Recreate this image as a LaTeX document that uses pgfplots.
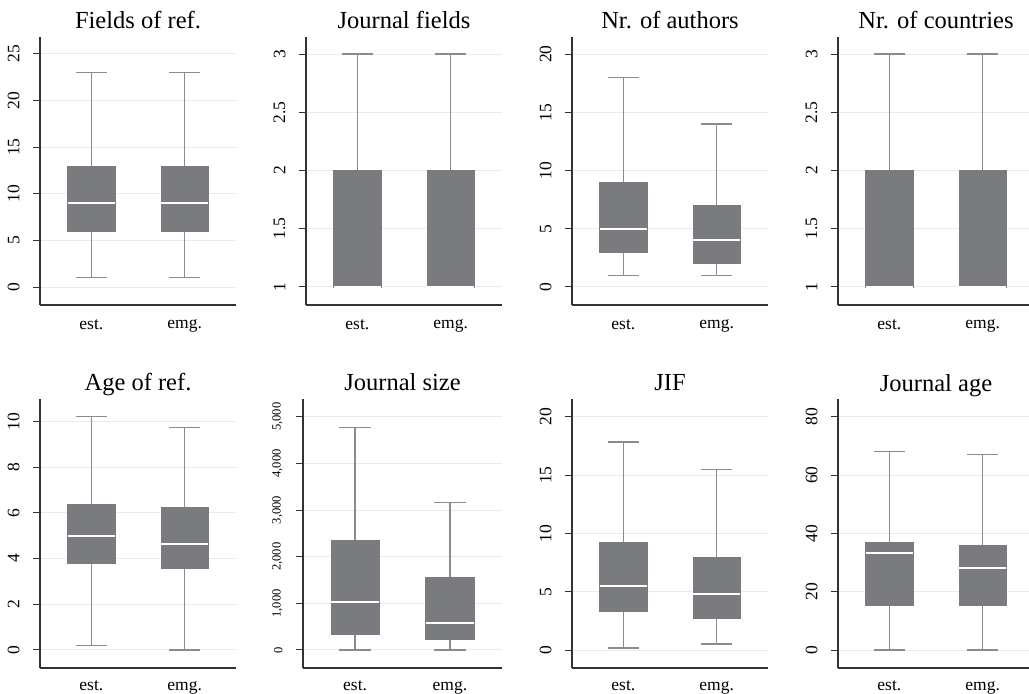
\documentclass[border=0pt]{standalone}
\usepackage{fontspec}
\setmainfont{Liberation Serif}
\usepackage{pgfplots}
\pgfplotsset{compat=1.18}
\usepgfplotslibrary{statistics}
\definecolor{boxc}{HTML}{7A7B7F}
\definecolor{whc}{HTML}{8C8C8C}
\definecolor{gridc}{HTML}{EAEAEA}
\definecolor{axisc}{HTML}{333333}
\newcommand\titlesize{\fontsize{24.5}{28}\selectfont}
\newcommand\ticksize{\fontsize{17.5}{20}\selectfont}
\newcommand\smallticksize{\fontsize{12.5}{14}\selectfont}
\pgfplotsset{
  panel/.style={
    scale only axis, width=196pt, height=268pt,
    xmin=0.45, xmax=2.55,
    axis x line*=bottom, axis y line*=left,
    axis line style={draw=axisc, line width=1.2pt},
    xtick={1,2}, xticklabels={est.,emg.},
    x tick style={draw=none},
    y tick style={draw=axisc, line width=1pt},
    major tick length=7pt, tick align=outside,
    ymajorgrids, grid style={draw=gridc, line width=1pt},
    tick label style={font=\ticksize},
    xticklabel style={yshift=-4pt},
    yticklabel style={xshift=-10pt, rotate=90, anchor=south},
    title style={font=\titlesize, at={(0.5,1)}, anchor=base, yshift=2pt},
    /pgf/number format/assume math mode=true,
    /pgf/number format/1000 sep={,},
    boxplot/draw direction=y,
    boxplot/every box/.style={draw=boxc, fill=boxc, line width=0.6pt},
    boxplot/every whisker/.style={draw=whc, line width=1.3pt},
    boxplot/every median/.style={draw=white, line width=2pt},
    boxplot/box extend=0.51,
    boxplot/whisker extend=0.33,
  },
  lowrow/.style={height=269pt, xticklabel style={yshift=1.5pt}},
}
\begin{document}
\begin{tikzpicture}
\useasboundingbox (0,0) rectangle (1029pt,694pt);
% Row 1
\begin{axis}[panel, at={(40pt,389pt)}, anchor=south west,
  title={Fields of ref.}, ymin=-1.93, ymax=26.82, ytick={0,5,10,15,20,25}]
\addplot[boxplot prepared={draw position=1, lower whisker=1, lower quartile=6, median=9, upper quartile=13, upper whisker=23}] coordinates {};
\addplot[boxplot prepared={draw position=2, lower whisker=1, lower quartile=6, median=9, upper quartile=13, upper whisker=23}] coordinates {};
\end{axis}
\begin{axis}[panel, at={(306pt,389pt)}, anchor=south west,
  title={Journal fields}, ymin=0.845, ymax=3.146, ytick={1,1.5,2,2.5,3}]
\addplot[boxplot prepared={draw position=1, lower whisker=1, lower quartile=1, median=1, upper quartile=2, upper whisker=3}] coordinates {};
\addplot[boxplot prepared={draw position=2, lower whisker=1, lower quartile=1, median=1, upper quartile=2, upper whisker=3}] coordinates {};
\end{axis}
\begin{axis}[panel, at={(572pt,389pt)}, anchor=south west,
  title={Nr. of authors}, ymin=-1.545, ymax=21.46, ytick={0,5,10,15,20}]
\addplot[boxplot prepared={draw position=1, lower whisker=1, lower quartile=3, median=5, upper quartile=9, upper whisker=18}] coordinates {};
\addplot[boxplot prepared={draw position=2, lower whisker=1, lower quartile=2, median=4, upper quartile=7, upper whisker=14}] coordinates {};
\end{axis}
\begin{axis}[panel, at={(838pt,389pt)}, anchor=south west,
  title={Nr. of countries}, ymin=0.845, ymax=3.146, ytick={1,1.5,2,2.5,3}]
\addplot[boxplot prepared={draw position=1, lower whisker=1, lower quartile=1, median=1, upper quartile=2, upper whisker=3}] coordinates {};
\addplot[boxplot prepared={draw position=2, lower whisker=1, lower quartile=1, median=1, upper quartile=2, upper whisker=3}] coordinates {};
\end{axis}
% Row 2
\begin{axis}[panel, lowrow, at={(40pt,26pt)}, anchor=south west,
  title={Age of ref.}, ymin=-0.79, ymax=10.99, ytick={0,2,4,6,8,10}]
\addplot[boxplot prepared={draw position=1, lower whisker=0.18, lower quartile=3.8, median=4.97, upper quartile=6.38, upper whisker=10.22}] coordinates {};
\addplot[boxplot prepared={draw position=2, lower whisker=0, lower quartile=3.57, median=4.64, upper quartile=6.24, upper whisker=9.74}] coordinates {};
\end{axis}
% Journal size, values in thousands
\begin{axis}[panel, lowrow, width=199pt, at={(303pt,26pt)}, anchor=south west,
  title={Journal size}, ymin=-0.386, ymax=5.379, ytick={0,1,2,3,4,5},
  yticklabels={0,{1,000},{2,000},{3,000},{4,000},{5,000}},
  yticklabel style={font=\smallticksize}]
\addplot[boxplot prepared={draw position=1, lower whisker=0, lower quartile=0.343, median=1.037, upper quartile=2.360, upper whisker=4.771}] coordinates {};
\addplot[boxplot prepared={draw position=2, lower whisker=0, lower quartile=0.229, median=0.586, upper quartile=1.552, upper whisker=3.161}] coordinates {};
\end{axis}
\begin{axis}[panel, lowrow, at={(572pt,26pt)}, anchor=south west,
  title={JIF}, ymin=-1.54, ymax=21.52, ytick={0,5,10,15,20}]
\addplot[boxplot prepared={draw position=1, lower whisker=0.17, lower quartile=3.35, median=5.49, upper quartile=9.27, upper whisker=17.83}] coordinates {};
\addplot[boxplot prepared={draw position=2, lower whisker=0.52, lower quartile=2.72, median=4.81, upper quartile=7.93, upper whisker=15.45}] coordinates {};
\end{axis}
\begin{axis}[panel, lowrow, at={(838pt,26pt)}, anchor=south west,
  title={Journal age}, ymin=-6.17, ymax=86.07, ytick={0,20,40,60,80}]
\addplot[boxplot prepared={draw position=1, lower whisker=0, lower quartile=15.2, median=33.4, upper quartile=37.1, upper whisker=68.1}] coordinates {};
\addplot[boxplot prepared={draw position=2, lower whisker=0, lower quartile=15.2, median=28.2, upper quartile=35.9, upper whisker=67}] coordinates {};
\end{axis}
\end{tikzpicture}
\end{document}
